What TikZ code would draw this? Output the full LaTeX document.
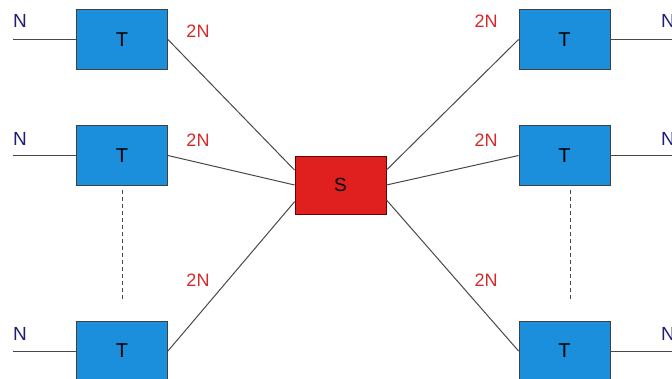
\documentclass[tikz,border=0pt]{standalone}
\usepackage{fontspec}
\setmainfont{Liberation Sans}
\usepackage{tikz}
\usetikzlibrary{positioning}

\definecolor{tblue}{HTML}{1B8FDB}
\definecolor{sred}{HTML}{E0201E}
\definecolor{nblue}{HTML}{1E1E78}
\definecolor{lred}{HTML}{D42A2A}
\definecolor{wire}{HTML}{484848}

\begin{document}
\begin{tikzpicture} [x=1pt, y=-1pt, thick,
                    tbox/.style={rectangle,draw=black!75,line width=0.9pt,fill=tblue,
                      minimum width=91pt,minimum height=60pt,inner sep=0pt,font=\fontsize{20}{20}\selectfont},
                    sbox/.style={rectangle,draw=black!60!red,line width=0.9pt,fill=sred,
                      minimum width=91pt,minimum height=58pt,inner sep=0pt,font=\fontsize{19}{19}\selectfont},
                    nlab/.style={text=nblue,inner sep=0pt,font=\fontsize{19}{19}\selectfont},
                    rate/.style={text=lred,inner sep=0pt,font=\fontsize{18}{18}\selectfont},
                    wline/.style={draw=wire,line width=1pt}]

\useasboundingbox (0,0) rectangle (672,378);

\node[sbox] (S) at (340.5,185) {S};

\node[tbox] (TL1) at (122,39.5) {T};
\node[tbox] (TL2) at (122,155.5) {T};
\node[tbox] (TL3) at (122,351) {T};
\node[tbox] (TR1) at (564.5,39.5) {T};
\node[tbox] (TR2) at (564.5,155.5) {T};
\node[tbox] (TR3) at (564.5,351) {T};

\coordinate (edgeL) at (13,0);
\coordinate (edgeR) at (672,0);

\node[nlab] (NL1) at (20,21) {N};
\node[nlab] (NL2) at (20,139) {N};
\node[nlab] (NL3) at (20,334) {N};
\node[nlab] (NR1) at (668,21) {N};
\node[nlab] (NR2) at (668,139) {N};
\node[nlab] (NR3) at (668,334) {N};

\node[rate] (RL1) at (198,31) {2N};
\node[rate] (RL2) at (198,140) {2N};
\node[rate] (RL3) at (198,280) {2N};
\node[rate] (RR1) at (486,21) {2N};
\node[rate] (RR2) at (486,140) {2N};
\node[rate] (RR3) at (486,280) {2N};

 \path[wline]
    (edgeL |- TL1.west) edge (TL1.west)
    (edgeL |- TL2.west) edge (TL2.west)
    (edgeL |- TL3.west) edge (TL3.west)
    (TR1.east) edge (edgeR |- TR1.east)
    (TR2.east) edge (edgeR |- TR2.east)
    (TR3.east) edge (edgeR |- TR3.east)
    (TL1.east) edge (S.162)
    (TL2.east) edge (S.west)
    (TL3.east) edge (S.200)
    (TR1.west) edge (S.18)
    (TR2.west) edge (S.east)
    (TR3.west) edge (S.342);

\draw[wline,dash pattern=on 4pt off 3pt] ([yshift=-4pt]TL2.south) -- ([yshift=19pt]TL3.north);
\draw[wline,dash pattern=on 4pt off 3pt] ([xshift=6pt,yshift=-4pt]TR2.south) -- ([xshift=6pt,yshift=19pt]TR3.north);
\end{tikzpicture}
\end{document}
